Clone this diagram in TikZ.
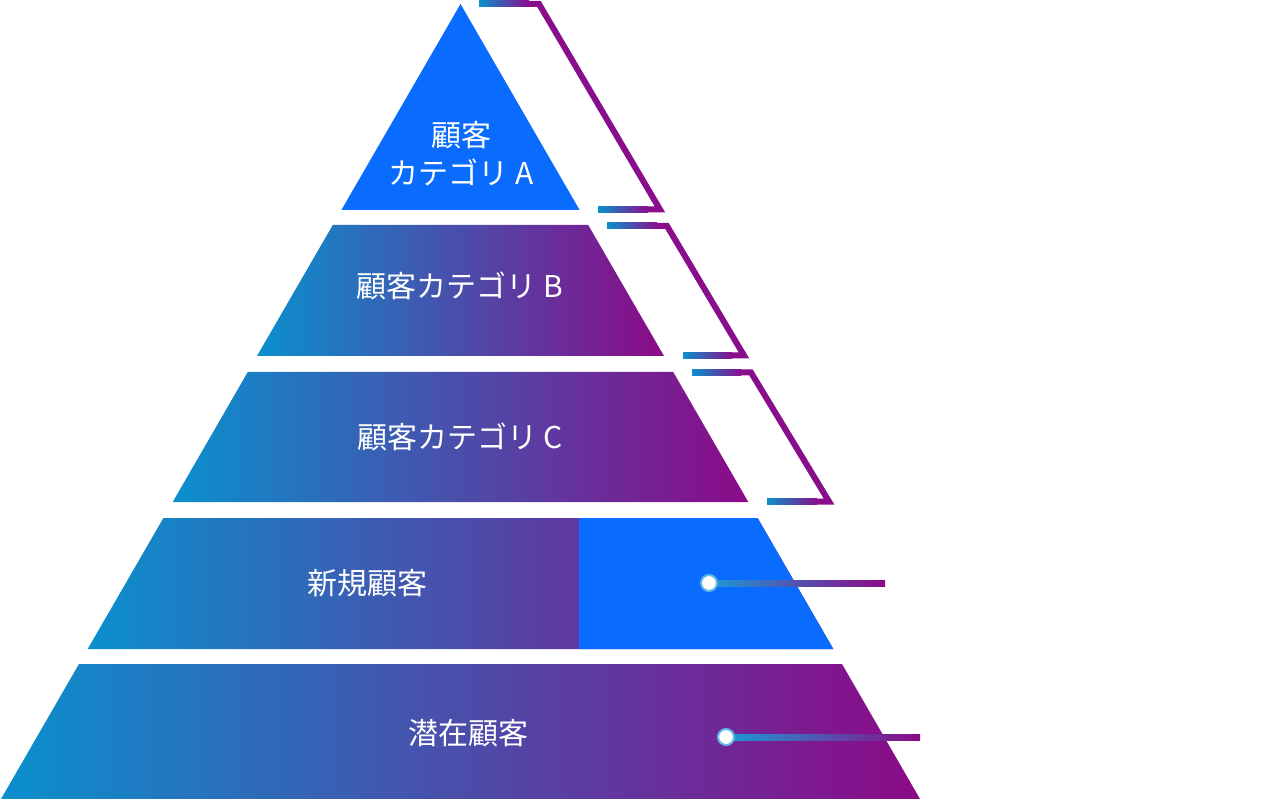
\documentclass[tikz,border=0pt]{standalone}
\usepackage{fontspec}
\setmainfont{Noto Sans CJK JP}
\usetikzlibrary{calc}
\definecolor{cyanL}{HTML}{0A90CD}
\definecolor{midC}{HTML}{5545A3}
\definecolor{purpR}{HTML}{8C0A87}
\definecolor{blueS}{HTML}{0A6CFE}
\definecolor{brk}{HTML}{880E8C}
\definecolor{dotc}{HTML}{1C9AD6}
\tikzset{
 layer/.style={left color=cyanL, middle color=midC, right color=purpR},
 txt/.style={text=white, font=\fontsize{30}{38}\selectfont, align=center, inner sep=0pt},
 brack/.style={draw=brk, line width=6pt, line join=miter},
 brackend/.style={left color=cyanL, right color=brk},
 dotnode/.style={circle, fill=white, draw=dotc!70, line width=2pt, minimum size=16pt, inner sep=0pt},
 connline/.style={left color=dotc, right color=purpR},
}
\begin{document}
\begin{tikzpicture}[x=1pt,y=-1pt]
\useasboundingbox (0,0) rectangle (1280,799);
% layers
\fill[blueS] (460.5,4) -- (579.6,210) -- (341.4,210) -- cycle;
\shade[layer] (332.8,225) -- (588.2,225) -- (664,356) -- (257,356) -- cycle;
\shade[layer] (247.8,372) -- (673.2,372) -- (748.3,502) -- (172.7,502) -- cycle;
\shade[layer] (163.4,518) -- (757.6,518) -- (833.3,649) -- (87.7,649) -- cycle;
\fill[blueS] (579,518) -- (757.6,518) -- (833.3,649) -- (579,649) -- cycle;
\shade[layer] (79,664) -- (842,664) -- (920,799) -- (1,799) -- cycle;
% labels
\node[txt] (tA) at (461,154) {顧客\\カテゴリ A};
\node[txt] (tB) at (460,286) {顧客カテゴリ B};
\node[txt] (tC) at (460,437) {顧客カテゴリ C};
\node[txt] (tD) at (367,583) {新規顧客};
\node[txt] (tE) at (468,733) {潜在顧客};
% brackets
\coordinate (b1a) at (479,4);   \coordinate (b1b) at (539,4);
\coordinate (b1c) at (660,209.5); \coordinate (b1d) at (598,209.5);
\coordinate (b2a) at (607,226); \coordinate (b2b) at (667,226);
\coordinate (b2c) at (744,355.5); \coordinate (b2d) at (683,355.5);
\coordinate (b3a) at (692,372.5); \coordinate (b3b) at (751,372.5);
\coordinate (b3c) at (829,501.5); \coordinate (b3d) at (767,501.5);
\foreach \i in {1,2,3}{
  \draw[brack] (b\i a) -- (b\i b) -- (b\i c) -- (b\i d);
  \shade[brackend] ($(b\i a)+(0,-3)$) rectangle ($(b\i b)+(-10,3)$);
  \shade[brackend] ($(b\i d)+(0,-3)$) rectangle ($(b\i c)+(-12,3)$);
}
% connectors
\coordinate (c1) at (709,583);
\coordinate (c2) at (726,737);
\coordinate (e1) at (885,583);
\coordinate (e2) at (920,737);
\shade[connline] ($(c1)+(0,-3)$) rectangle ($(e1)+(0,3)$);
\shade[connline] ($(c2)+(0,-3)$) rectangle ($(e2)+(0,3)$);
\node[dotnode] (d1) at (c1) {};
\node[dotnode] (d2) at (c2) {};
\end{tikzpicture}
\end{document}
